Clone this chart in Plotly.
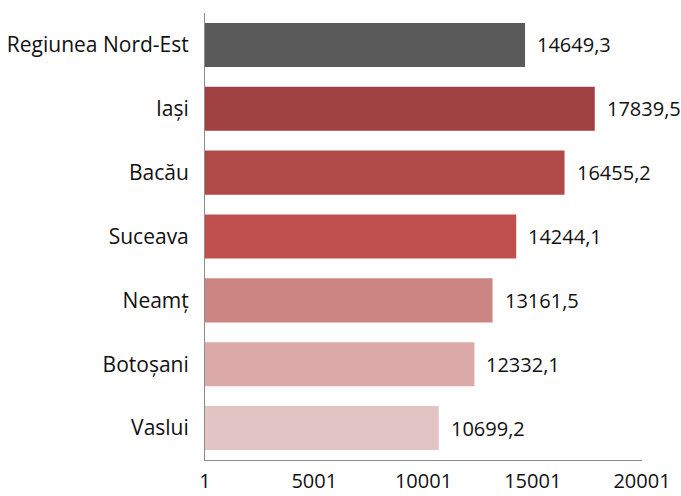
import plotly.graph_objects as go

categories = ["Regiunea Nord-Est", "Iași", "Bacău", "Suceava", "Neamț", "Botoșani", "Vaslui"]
values = [14649.3, 17839.5, 16455.2, 14244.1, 13161.5, 12332.1, 10699.2]
colors = ["#5a5a5a", "#9e4140", "#af4a48", "#c0504d", "#cd8583", "#daa9a8", "#e3c4c4"]
tick_vals = [1, 5001, 10001, 15001, 20001]
tick_text = ["1", "5001", "10001", "15001", "20001"]

FONT = "Open Sans"

fig = go.Figure()
fig.add_trace(go.Bar(
    x=[v - 1 for v in values], y=categories, orientation="h",
    marker=dict(color=colors, line=dict(width=0)),
    base=1,
    hoverinfo="skip",
))

for c, v in zip(categories, values):
    fig.add_annotation(
        x=v, y=c, text=f"{v:.1f}".replace(".", ","),
        xanchor="left", yanchor="middle", xshift=10, showarrow=False,
        font=dict(family=FONT, size=20, color="#111111"),
    )

fig.update_layout(
    width=681, height=496,
    margin=dict(l=205, r=39, t=13, b=36),
    plot_bgcolor="white", paper_bgcolor="white",
    bargap=0.31,
    showlegend=False,
    font=dict(family=FONT, size=20, color="#111111"),
    xaxis=dict(
        range=[1, 20001], tickvals=tick_vals, ticktext=tick_text,
        showgrid=False, zeroline=False, showline=True, linecolor="#8c8c8c", linewidth=1,
        ticks="", ticklabelstandoff=3, automargin=False,
        tickfont=dict(family=FONT, size=20, color="#111111"),
    ),
    yaxis=dict(
        categoryorder="array", categoryarray=categories[::-1],
        showgrid=False, zeroline=False, showline=True, linecolor="#8c8c8c", linewidth=1,
        ticks="", ticklabelstandoff=11, automargin=False,
        tickfont=dict(family=FONT, size=21, color="#111111"),
    ),
)

fig.write_html("out.html", config={"displayModeBar": False},
               post_script="document.body.style.margin='0px';")
